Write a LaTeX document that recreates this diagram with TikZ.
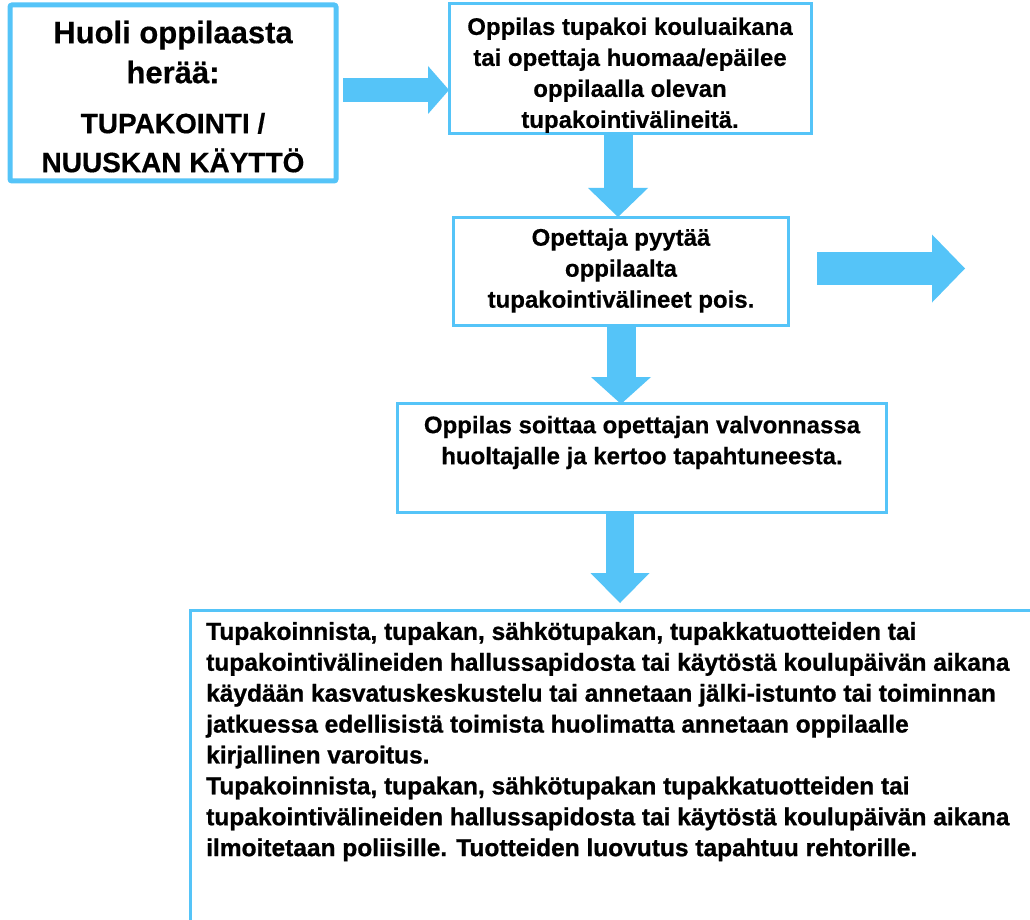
\documentclass[tikz,border=0pt]{standalone}
\usepackage{fontspec}
\setmainfont{Liberation Sans}[BoldFeatures={FakeBold=0.4}]
\newfontfamily\heavyfont{Liberation Sans}[BoldFeatures={FakeBold=0.9}]
\usetikzlibrary{arrows.meta,calc}
\definecolor{sky}{RGB}{85,196,248}
\begin{document}
\begin{tikzpicture}[x=1pt,y=-1pt,
  box/.style={draw=sky, line width=3pt, inner sep=0pt, outer sep=0pt, anchor=north west},
  txt/.style={font=\bfseries\fontsize{24}{31}\selectfont, align=center, inner sep=0pt, anchor=north},
  barr/.style n args={3}{draw=sky, line width=#1, line cap=butt,
    -{Triangle[width=#2,length=#3,line width=0pt]}}]
\clip (0,0) rectangle (1030,920);
\fill[white] (0,0) rectangle (1030,920);
% boxes
\node[box, line width=5pt, rounded corners=2pt, minimum width=326pt, minimum height=176pt] (b1) at (10,5) {};
\node[box, minimum width=362pt, minimum height=130pt] (b2) at (449,4) {};
\node[box, minimum width=335pt, minimum height=108pt] (b3) at (453,217) {};
\node[box, minimum width=489pt, minimum height=109pt] (b4) at (397,403) {};
\node[box, minimum width=1000pt, minimum height=500pt] (b5) at (190,610) {};
% texts
\node[txt, font=\bfseries\fontsize{31}{40}\selectfont] (t1a) at (173,15) {\strut Huoli oppilaasta\\herää:};
\node[txt, font=\bfseries\fontsize{28}{39}\selectfont] (t1b) at (173,105.7) {\strut TUPAKOINTI /\\NUUSKAN KÄYTTÖ};
\node[txt] (t2) at (630,13) {\strut Oppilas tupakoi kouluaikana\\tai opettaja huomaa/epäilee\\oppilaalla olevan\\tupakointivälineitä.};
\node[txt] (t3) at (621,223.8) {\strut Opettaja pyytää\\oppilaalta\\tupakointivälineet pois.};
\node[txt] (t4) at (642,411.3) {\strut Oppilas soittaa opettajan valvonnassa\\huoltajalle ja kertoo tapahtuneesta.};
\node[txt, font=\heavyfont\bfseries\fontsize{24.5}{30.9}\selectfont, align=left, anchor=north west] (t5) at (206,618) {\strut Tupakoinnista, tupakan, sähkötupakan, tupakkatuotteiden tai\\
tupakointivälineiden hallussapidosta tai käytöstä koulupäivän aikana\\
käydään kasvatuskeskustelu tai annetaan jälki-istunto tai toiminnan\\
jatkuessa edellisistä toimista huolimatta annetaan oppilaalle\\
kirjallinen varoitus.\\
Tupakoinnista, tupakan, sähkötupakan tupakkatuotteiden tai\\
tupakointivälineiden hallussapidosta tai käytöstä koulupäivän aikana\\
ilmoitetaan poliisille. Tuotteiden luovutus tapahtuu rehtorille.};
% arrows
\coordinate (a1s) at ($(b1.east)+(7,-3)$);
\draw[barr={24pt}{48pt}{21pt}] (a1s) -- (a1s -| b2.west);
\coordinate (a2s) at ($(b2.south)+(-12,1.5)$);
\draw[barr={29pt}{60pt}{29pt}] (a2s) -- (a2s |- b3.north);
\coordinate (a3s) at ($(b3.south)+(0.5,1.5)$);
\draw[barr={29pt}{60pt}{27pt}] (a3s) -- ($(a3s |- b4.north)+(0,1)$);
\coordinate (a4s) at ($(b4.south)+(-21.5,1.5)$);
\draw[barr={28pt}{59pt}{30pt}] (a4s) -- ($(a4s |- b5.north)+(0,-7)$);
\coordinate (a5s) at ($(b3.east)+(29,-2.5)$);
\coordinate (a5e) at ($(a5s)+(148,0)$);
\draw[barr={33pt}{68pt}{33pt}] (a5s) -- (a5e);
\end{tikzpicture}
\end{document}
